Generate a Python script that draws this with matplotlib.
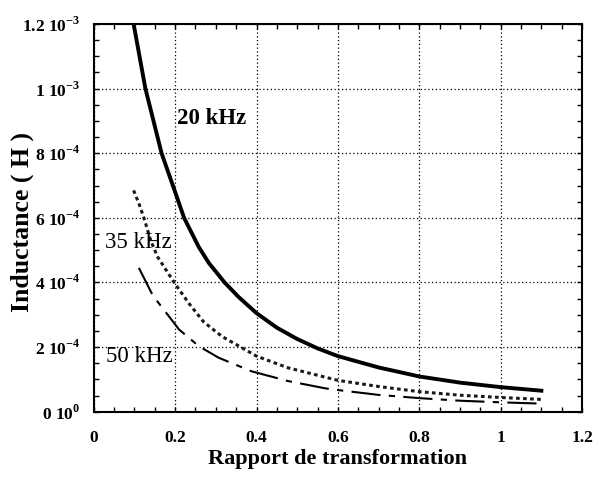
import numpy as np
import matplotlib
matplotlib.use("Agg")
import matplotlib.pyplot as plt
from matplotlib.ticker import MultipleLocator, FixedLocator, FixedFormatter

plt.rcParams['font.family'] = ['Liberation Serif', 'DejaVu Serif']
plt.rcParams['mathtext.fontset'] = 'custom'
plt.rcParams['mathtext.rm'] = 'Liberation Serif:bold'
plt.rcParams['mathtext.bf'] = 'Liberation Serif:bold'

# values
x20 = [0.098, 0.127, 0.1667, 0.20, 0.222, 0.258, 0.283, 0.3215, 0.356, 0.40, 0.45, 0.50,
       0.55, 0.60, 0.70, 0.80, 0.90, 1.00, 1.10]
l20 = [1.2e-3, 1.0e-3, 8.0e-4, 6.8e-4, 6.0e-4, 5.1e-4, 4.6e-4, 4.0e-4, 3.55e-4, 3.05e-4, 2.6e-4, 2.25e-4,
       1.96e-4, 1.72e-4, 1.37e-4, 1.09e-4, 0.90e-4, 0.76e-4, 0.65e-4]

x35 = [0.098, 0.1126, 0.125, 0.14, 0.157, 0.1976, 0.234, 0.270, 0.315, 0.40, 0.477, 0.60,
       0.70, 0.80, 0.90, 1.00, 1.10]
l35 = [6.85e-4, 6.39e-4, 5.93e-4, 5.3e-4, 4.79e-4, 4.0e-4, 3.35e-4, 2.78e-4, 2.33e-4, 1.72e-4, 1.36e-4, 0.97e-4,
       0.78e-4, 0.62e-4, 0.51e-4, 0.44e-4, 0.38e-4]

x50 = [0.111, 0.145, 0.21, 0.258, 0.307, 0.388, 0.477, 0.57, 0.60, 0.70, 0.80, 0.90, 1.00, 1.10]
l50 = [4.45e-4, 3.6e-4, 2.54e-4, 2.03e-4, 1.67e-4, 1.25e-4, 0.95e-4, 0.72e-4, 0.67e-4, 0.52e-4,
       0.42e-4, 0.34e-4, 0.29e-4, 0.25e-4]

yticks = [0, 2e-4, 4e-4, 6e-4, 8e-4, 1e-3, 1.2e-3]
ylabels = [r'0 10$^{0}$', r'2 10$^{-4}$', r'4 10$^{-4}$', r'6 10$^{-4}$',
           r'8 10$^{-4}$', r'1 10$^{-3}$', r'1.2 10$^{-3}$']
xticks = [0, 0.2, 0.4, 0.6, 0.8, 1, 1.2]
xlabels = ['0', '0.2', '0.4', '0.6', '0.8', '1', '1.2']

fig = plt.figure(figsize=(5.97, 4.79), dpi=100)
ax = fig.add_axes([0.157, 0.1405, 0.818, 0.8095])

ax.plot(x20, l20, color='black', lw=2.8, solid_joinstyle='round')
ax.plot(x35, l35, color='#1a1a1a', lw=2.2, linestyle=(0, (1.2, 1.1)))
ax.plot(x50, l50, color='black', lw=1.5, linestyle=(0, (14, 4, 3, 4)))

ax.set_xlim(0, 1.2)
ax.set_ylim(0, 1.2e-3)
ax.xaxis.set_major_locator(FixedLocator(xticks))
ax.xaxis.set_major_formatter(FixedFormatter(xlabels))
ax.yaxis.set_major_locator(FixedLocator(yticks))
ax.yaxis.set_major_formatter(FixedFormatter(ylabels))
ax.xaxis.set_minor_locator(MultipleLocator(0.05))
ax.yaxis.set_minor_locator(MultipleLocator(0.5e-4))

ax.grid(True, which='major', color='black', linestyle=(0, (1, 2)), lw=0.9)
ax.tick_params(which='both', direction='in', top=True, right=True, length=3.5, width=1, labelsize=12.5)
ax.tick_params(axis='x', pad=13)
ax.tick_params(axis='y', pad=10)
for lab in ax.get_xticklabels() + ax.get_yticklabels():
    lab.set_fontweight('bold')
for s in ax.spines.values():
    s.set_linewidth(1.5)

ax.set_xlabel('Rapport de transformation', fontsize=16, fontweight='bold')
ax.xaxis.set_label_coords(0.5, -0.095)
ax.set_ylabel('Inductance ( H )', fontsize=18.5, fontweight='bold')
ax.yaxis.set_label_coords(-0.122, 0.49)

ax.text(0.205, 9.08e-4, '20 kHz', fontsize=16.5, fontweight='bold', va='center', ha='left')
ax.text(0.028, 5.25e-4, '35 kHz', fontsize=16.5, va='center', ha='left')
ax.text(0.030, 1.70e-4, '50 kHz', fontsize=16.5, va='center', ha='left')

fig.savefig('out.png', dpi=100)
